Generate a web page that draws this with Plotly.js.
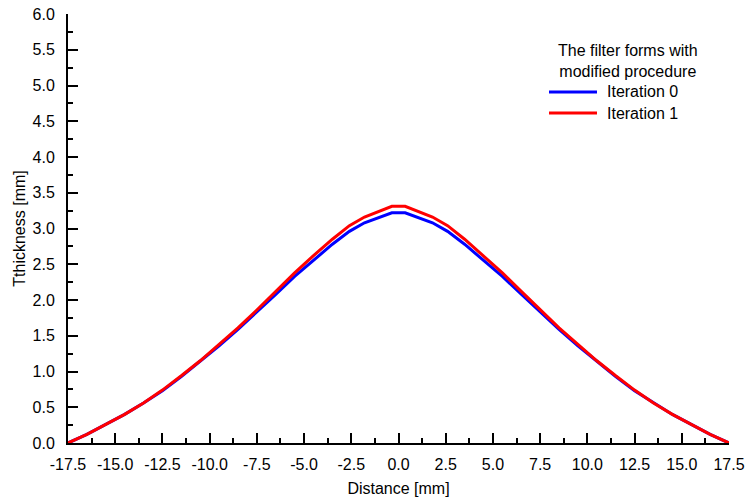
<!DOCTYPE html>
<html>
<head>
<meta charset="utf-8">
<script src="https://cdn.plot.ly/plotly-3.0.1.min.js"></script>
<style>html,body{margin:0;padding:0;background:#fff;}#chart{width:750px;height:502px;}</style>
</head>
<body>
<div id="chart"></div>
<script>
// Distance [mm]
const distance = [-17.5, -16.5, -15.5, -14.5, -13.5, -12.5, -11.5, -10.5, -9.5, -8.5, -7.5, -6.5, -5.5, -4.5, -3.5, -2.6, -1.8, -0.35,
                  0.35, 1.8, 2.6, 3.5, 4.5, 5.5, 6.5, 7.5, 8.5, 9.5, 10.5, 11.5, 12.5, 13.5, 14.5, 15.5, 16.5, 17.5];
// Thickness [mm], Iteration 0
const iteration0 = [0.00, 0.12, 0.26, 0.40, 0.56, 0.73, 0.93, 1.14, 1.36, 1.59, 1.83, 2.08, 2.33, 2.56, 2.78, 2.96, 3.08, 3.22,
                    3.22, 3.08, 2.96, 2.78, 2.56, 2.33, 2.08, 1.83, 1.59, 1.36, 1.14, 0.93, 0.73, 0.56, 0.40, 0.26, 0.12, 0.00];
// Thickness [mm], Iteration 1
const iteration1 = [0.00, 0.12, 0.26, 0.40, 0.56, 0.74, 0.94, 1.15, 1.38, 1.61, 1.86, 2.12, 2.38, 2.62, 2.85, 3.04, 3.16, 3.31,
                    3.31, 3.16, 3.04, 2.85, 2.62, 2.38, 2.12, 1.86, 1.61, 1.38, 1.15, 0.94, 0.74, 0.56, 0.40, 0.26, 0.12, 0.00];

const seriesNames = ["Iteration 0", "Iteration 1"];
const seriesColors = ["#0000ff", "#ff0000"];
const legendTitle = "The filter forms with<br>modified procedure";

const xTickVals = [-17.5, -15, -12.5, -10, -7.5, -5, -2.5, 0, 2.5, 5, 7.5, 10, 12.5, 15, 17.5];
const xTickText = ["-17.5", "-15.0", "-12.5", "-10.0", "-7.5", "-5.0", "-2.5", "0.0", "2.5", "5.0", "7.5", "10.0", "12.5", "15.0", "17.5"];
const yTickVals = [0, 0.5, 1, 1.5, 2, 2.5, 3, 3.5, 4, 4.5, 5, 5.5, 6];
const yTickText = ["0.0", "0.5", "1.0", "1.5", "2.0", "2.5", "3.0", "3.5", "4.0", "4.5", "5.0", "5.5", "6.0"];

const font = "Arial, 'Liberation Sans', sans-serif";

const seriesY = [iteration0, iteration1];
const traces = seriesY.map((ys, i) => ({
  x: distance, y: ys, type: "scatter", mode: "lines", name: seriesNames[i],
  line: {color: seriesColors[i], width: 3}
}));

// Hand-placed legend (paper coordinates)
const legLineX0 = 0.7277, legLineX1 = 0.8003, legTextX = 0.8124;
const legRowY = [0.8182, 0.7692];
const shapes = seriesNames.map((n, i) => ({
  type: "line", xref: "paper", yref: "paper",
  x0: legLineX0, x1: legLineX1, y0: legRowY[i], y1: legRowY[i],
  line: {color: seriesColors[i], width: 3}
}));
const annotations = seriesNames.map((n, i) => ({
  text: n, xref: "paper", yref: "paper", x: legTextX, y: legRowY[i],
  xanchor: "left", yanchor: "middle", showarrow: false,
  font: {family: font, size: 16, color: "#000"}
}));
annotations.push({
  text: legendTitle, xref: "paper", yref: "paper", x: 0.8472, y: 0.8904,
  xanchor: "center", yanchor: "middle", align: "center", showarrow: false,
  font: {family: font, size: 16, color: "#000"}
});

const layout = {
  width: 750, height: 502,
  margin: {l: 68, r: 21, t: 14, b: 59},
  paper_bgcolor: "#fff", plot_bgcolor: "#fff",
  font: {family: font, size: 16, color: "#000"},
  showlegend: false,
  shapes: shapes,
  annotations: annotations,
  xaxis: {
    range: [-17.5, 17.5], tickmode: "array", tickvals: xTickVals, ticktext: xTickText,
    showgrid: false, zeroline: false, showline: true, linecolor: "#000", linewidth: 2,
    ticks: "inside", ticklen: 10, tickwidth: 2, tickcolor: "#000",
    minor: {dtick: 1.25, tick0: 0, ticks: "inside", ticklen: 5, tickwidth: 2, tickcolor: "#000", showgrid: false},
    tickfont: {family: font, size: 16}, ticklabelstandoff: 6,
    title: {text: "Distance [mm]", font: {family: font, size: 16}, standoff: 11},
    fixedrange: true
  },
  yaxis: {
    range: [0, 6], tickmode: "array", tickvals: yTickVals, ticktext: yTickText,
    showgrid: false, zeroline: false, showline: true, linecolor: "#000", linewidth: 2,
    ticks: "inside", ticklen: 10, tickwidth: 2, tickcolor: "#000",
    minor: {dtick: 0.25, tick0: 0, ticks: "inside", ticklen: 5, tickwidth: 2, tickcolor: "#000", showgrid: false},
    tickfont: {family: font, size: 16}, ticklabelstandoff: 8,
    title: {text: "Tthickness [mm]", font: {family: font, size: 16}, standoff: 3},
    fixedrange: true
  }
};

Plotly.newPlot("chart", traces, layout, {staticPlot: true, displayModeBar: false});
</script>
</body>
</html>
